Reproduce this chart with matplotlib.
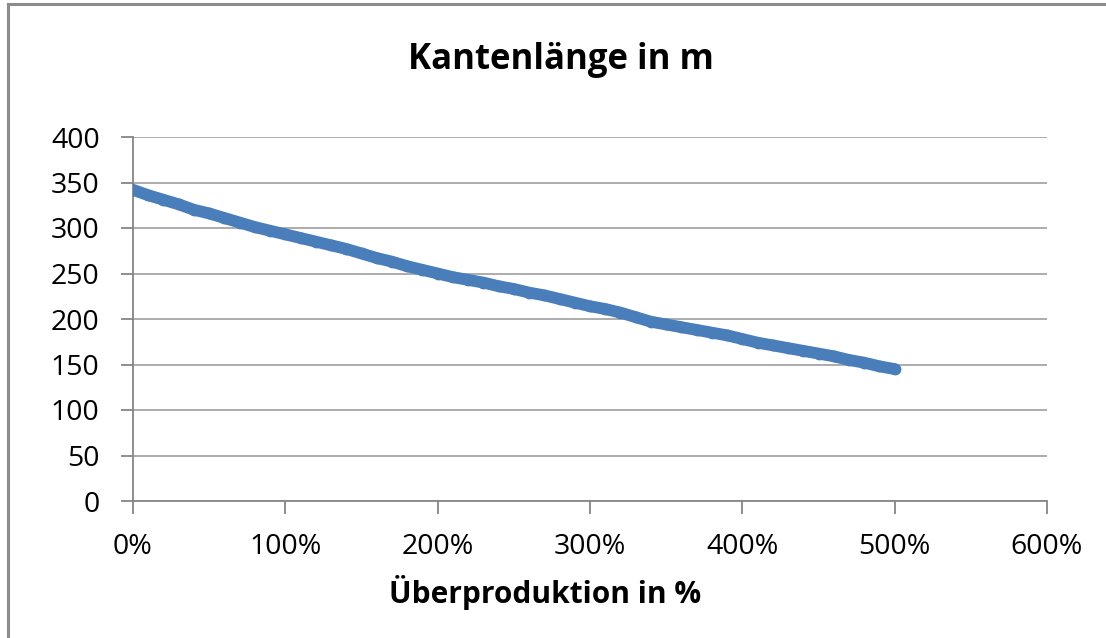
import matplotlib.pyplot as plt
from matplotlib.lines import Line2D
from matplotlib.ticker import FuncFormatter

# Überproduktion in % (x) and Kantenlänge in m (y)
ueberproduktion = [0, 10, 20, 30, 40, 50, 60, 70, 80, 90,
                   100, 110, 120, 130, 140, 150, 160, 170, 180, 190,
                   200, 210, 220, 230, 240, 250, 260, 270, 280, 290,
                   300, 310, 320, 330, 340, 350, 360, 370, 380, 390,
                   400, 410, 420, 430, 440, 450, 460, 470, 480, 490, 500]
kantenlaenge = [342, 336, 331, 326, 320, 316, 311, 306, 301, 297,
                293, 289, 285, 281, 277, 272, 267, 263, 258, 254,
                250, 246, 243, 240, 236, 233, 229, 226, 222, 218,
                214, 211, 207, 202, 197, 194, 191, 188, 185, 182,
                178, 174, 171, 168, 165, 162, 159, 155, 152, 148, 145]

x_ticks = [0, 100, 200, 300, 400, 500, 600]
y_ticks = [0, 50, 100, 150, 200, 250, 300, 350, 400]

blue = "#4a7ebb"
grid_grey = "#a6a6a6"
axis_grey = "#868686"

plt.rcParams['font.family'] = ['Open Sans', 'DejaVu Sans']

fig = plt.figure(figsize=(11.06, 6.38), dpi=100)
ax = fig.add_axes([133/1106, 1 - 501/638, (1047-133)/1106, (501-137)/638])

ax.plot(ueberproduktion, kantenlaenge, color=blue, lw=8.5,
        solid_capstyle="round", solid_joinstyle="round",
        marker="o", ms=8.5, mew=0, mfc=blue, zorder=3)

ax.set_xlim(0, 600)
ax.set_ylim(0, 400)
ax.set_xticks(x_ticks)
ax.set_yticks(y_ticks)
ax.xaxis.set_major_formatter(FuncFormatter(lambda v, p: "%d%%" % v))
ax.yaxis.grid(True, color=grid_grey, lw=1.3)
ax.set_axisbelow(True)

for side in ["top", "right"]:
    ax.spines[side].set_visible(False)
for side in ["left", "bottom"]:
    ax.spines[side].set_color(axis_grey)
    ax.spines[side].set_linewidth(1.3)

ax.tick_params(axis="both", length=9, width=1.3, color=axis_grey,
               labelsize=20.5, labelcolor="black")
ax.tick_params(axis="y", pad=15)
ax.tick_params(axis="x", pad=14)

fig.text(561/1106, 1 - 60/638, "Kantenlänge in m", ha="center", va="center",
         fontsize=25, fontweight="bold")
fig.text(545/1106, 1 - 592/638, "Überproduktion in %", ha="center", va="center",
         fontsize=21.5, fontweight="bold")

# chart frame (left and top edges visible)
fig.add_artist(Line2D([8/1106, 8/1106], [0, 1 - 4/638], color="#8c8c8c", lw=2.2))
fig.add_artist(Line2D([8/1106, 1], [1 - 4/638, 1 - 4/638], color="#8c8c8c", lw=2.2))

fig.savefig("out.png", dpi=100)
